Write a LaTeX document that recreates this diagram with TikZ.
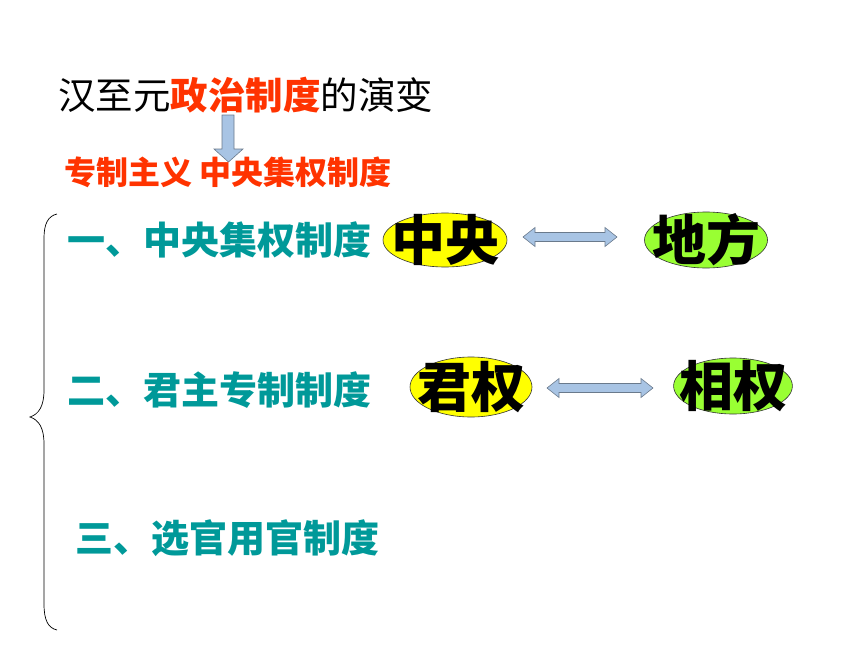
\documentclass[tikz,border=0pt]{standalone}
\usepackage{fontspec}
\newfontfamily\cjk{Noto Sans CJK SC}
\usetikzlibrary{shapes.geometric}
\definecolor{tealtxt}{HTML}{009999}
\definecolor{redtxt}{HTML}{FF3300}
\definecolor{yel}{HTML}{FFFF00}
\definecolor{grn}{HTML}{99FF33}
\definecolor{arrowblue}{HTML}{A8C4E4}
\definecolor{arrowline}{HTML}{6A7A8C}
\tikzset{
  plain/.style={inner sep=0pt, anchor=west, font=\cjk},
  rowtext/.style={plain, text=tealtxt, font=\cjk\bfseries\fontsize{38}{40}\selectfont},
  oval/.style={ellipse, draw=black!80, line width=0.6pt, inner sep=-12pt,
    font=\cjk\bfseries\fontsize{54}{56}\selectfont},
  blockarrow/.style={fill=arrowblue, draw=arrowline, line width=0.6pt, line join=miter},
  bracestyle/.style={draw=black, line width=0.7pt}
}
\begin{document}
\begin{tikzpicture}[x=1pt, y=-1pt]
\useasboundingbox (0,0) rectangle (860,645);
% title
\node[plain, font=\cjk\fontsize{37.5}{40}\selectfont] (title) at (58,95)
  {汉至元{\bfseries\color{redtxt}政治制度}的演变};
% down arrow
\draw[blockarrow] (222,115) -- (234,115) -- (234,149) -- (243,149) -- (228.5,162)
  -- (214,149) -- (222,149) -- cycle;
% subtitle
\node[plain, text=redtxt, font=\cjk\bfseries\fontsize{32}{34}\selectfont] (sub) at (64,172)
  {专制主义 中央集权制度};
% rows
\node[rowtext] (r1) at (67,240) {一、中央集权制度};
\node[rowtext] (r2) at (67,390) {二、君主专制制度};
\node[rowtext] (r3) at (75,538) {三、选官用官制度};
% ovals
\node[oval, fill=yel, minimum width=124pt, minimum height=54pt] (zy) at (445,240) {中央};
\node[oval, fill=grn, minimum width=123pt, minimum height=56pt] (df) at (706,240) {地方};
\node[oval, fill=yel, minimum width=122pt, minimum height=60pt] (jq) at (471,387) {君权};
\node[oval, fill=grn, minimum width=117pt, minimum height=56pt] (xq) at (733,386) {相权};
% double arrows
\draw[blockarrow] (523,237) -- (535,227.5) -- (535,232.5) -- (605,232.5) -- (605,227.5)
  -- (617,237) -- (605,246.5) -- (605,241.5) -- (535,241.5) -- (535,246.5) -- cycle;
\draw[blockarrow] (547,388) -- (559,378.5) -- (559,383.5) -- (641,383.5) -- (641,378.5)
  -- (653,388) -- (641,397.5) -- (641,392.5) -- (559,392.5) -- (559,397.5) -- cycle;
% brace
\draw[bracestyle] (57,214) .. controls (48,216) and (44,224) .. (44,238) -- (44,390)
  .. controls (44,406) and (39,414) .. (30,417) .. controls (39,420) and (44,428) .. (44,444)
  -- (44,604) .. controls (44,620) and (48,628) .. (57,630);
\end{tikzpicture}
\end{document}
